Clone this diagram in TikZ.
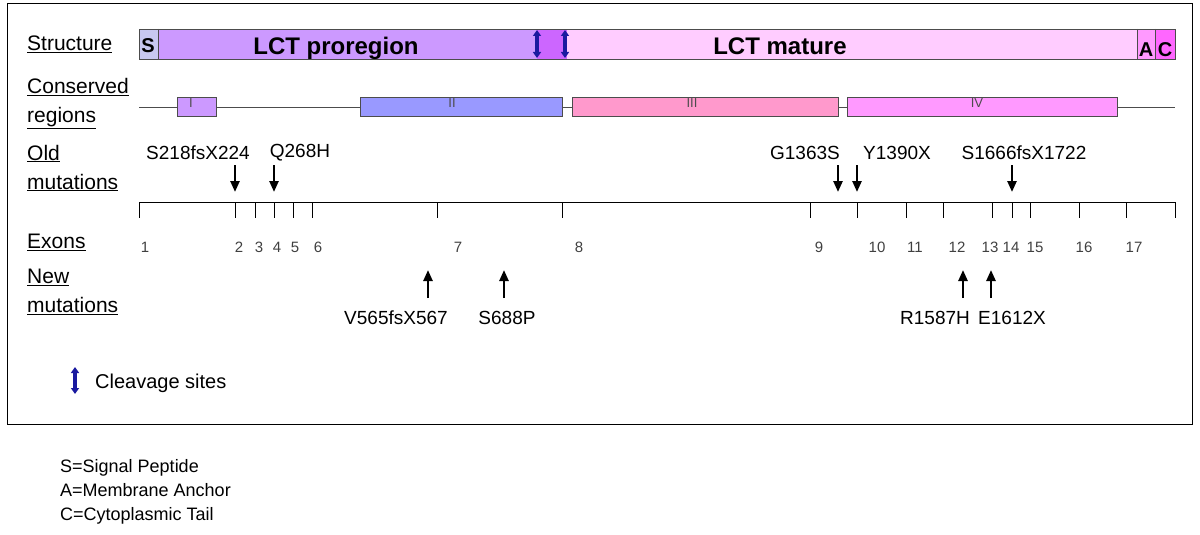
\documentclass[tikz,border=0pt]{standalone}
\usepackage{fontspec}
\setmainfont{Liberation Sans}
\usetikzlibrary{arrows.meta}
\definecolor{cS}{HTML}{C8C8F0}
\definecolor{cPro}{HTML}{CC99FF}
\definecolor{cMid}{HTML}{CC66FF}
\definecolor{cMat}{HTML}{FFCCFF}
\definecolor{cA}{HTML}{FF99FF}
\definecolor{cC}{HTML}{FF66FF}
\definecolor{cI}{HTML}{CC99FF}
\definecolor{cII}{HTML}{9999FF}
\definecolor{cIII}{HTML}{FF99CC}
\definecolor{cIV}{HTML}{FF99FF}
\definecolor{cleav}{HTML}{1A1AA0}
\tikzset{
  rowlab/.style={anchor=west,align=left,font=\fontsize{21}{29}\selectfont,inner sep=0},
  seg/.style={draw=black!70,line width=0.8pt},
  cbox/.style={draw=black!70,line width=0.8pt},
  mut/.style={font=\fontsize{19}{22}\selectfont,inner sep=0},
  exn/.style={font=\fontsize{15}{17}\selectfont,text=black!75,inner sep=0},
  marr/.style={-{Triangle[length=11pt,width=9pt]},line width=2.4pt},
  cleavarr/.style={{Triangle[length=6pt,width=8pt]}-{Triangle[length=6pt,width=8pt]},line width=4pt,cleav},
  legend/.style={anchor=base west,font=\fontsize{18}{20}\selectfont,inner sep=0},
}
\begin{document}
\begin{tikzpicture}[x=1pt,y=-1pt]
\useasboundingbox (0,0) rectangle (1200,535);
\draw[line width=1pt] (7,4) rectangle (1192,424);
% row labels
\node[rowlab] (lstruct) at (27,44) {\underline{Structure}};
\node[rowlab] (lcons) at (27,104) {\underline{Conserved}\\\underline{regions}};
\node[rowlab] (lold) at (27,168) {\underline{Old}\\\underline{mutations}};
\node[rowlab] (lex) at (27,242) {\underline{Exons}};
\node[rowlab] (lnew) at (27,292) {\underline{New}\\\underline{mutations}};
% structure bar
\fill[cS] (139,29) rectangle (158,59);
\fill[cPro] (158,29) rectangle (537,59);
\fill[cMid] (537,29) rectangle (567,59);
\fill[cMat] (567,29) rectangle (1137,59);
\fill[cA] (1137,29) rectangle (1155,59);
\fill[cC] (1155,29) rectangle (1175,59);
\draw[seg] (139,29) rectangle (1175,59);
\foreach \x in {158,1137,1155} \draw[seg] (\x,29) -- (\x,59);
\node[font=\bfseries\fontsize{20}{22}\selectfont,inner sep=0] (tS) at (148,46) {S};
\node[font=\bfseries\fontsize{24}{26}\selectfont,inner sep=0] (tpro) at (336,48) {LCT proregion};
\node[font=\bfseries\fontsize{24}{26}\selectfont,inner sep=0] (tmat) at (780,46) {LCT mature};
\node[font=\bfseries\fontsize{20}{22}\selectfont,inner sep=0] (tA) at (1146,50) {A};
\node[font=\bfseries\fontsize{20}{22}\selectfont,inner sep=0] (tC) at (1165,50) {C};
\coordinate (c1t) at (537,30); \coordinate (c1b) at (537,58);
\coordinate (c2t) at (565,30); \coordinate (c2b) at (565,58);
\draw[cleavarr] (c1t) -- (c1b);
\draw[cleavarr] (c2t) -- (c2b);
% conserved regions
\coordinate (cl0) at (139,107); \coordinate (cl1) at (1175,107);
\draw[seg] (cl0) -- (cl1);
\foreach \a/\b/\cc/\n/\xn in {177/216/cI/I/191,360/562/cII/II/452,572/838/cIII/III/692,847/1117/cIV/IV/977}{
  \draw[cbox,fill=\cc] (\a,97) rectangle (\b,116);
  \node[font=\fontsize{13}{14}\selectfont,text=black!70,inner sep=0] at (\xn,103) {\n};
}
% old mutations
\foreach \x/\t/\xl in {235/S218fsX224/198,274/Q268H/300,838/G1363S/805,857/Y1390X/897,1012/S1666fsX1722/1024}{
  \node[mut] (om\x) at (\xl,153) {\t};
  \coordinate (oa\x) at (\x,165); \coordinate (ob\x) at (\x,192);
  \draw[marr] (oa\x) -- (ob\x);
}
% exon line
\coordinate (e0) at (139,202); \coordinate (e1) at (1175,202);
\draw[line width=0.8pt] (e0) -- (e1);
\foreach \x in {139,235,255,274,293,312,437,562,810,857,906,943,992,1012,1030,1079,1126,1175}
  \draw[line width=0.8pt] (\x,202) -- (\x,218);
\foreach \n/\x in {1/145,2/239,3/259,4/277,5/295,6/318,7/458,8/579,9/819,10/877,11/915,12/957,13/990,14/1011,15/1035,16/1084,17/1134}
  \node[exn] (ex\n) at (\x,247) {\n};
% new mutations
\foreach \x/\t/\xl in {428/V565fsX567/396,504/S688P/507,963/R1587H/935,991/E1612X/1012}{
  \coordinate (na\x) at (\x,298); \coordinate (nb\x) at (\x,270);
  \draw[marr] (na\x) -- (nb\x);
  \node[mut] (nm\x) at (\xl,318) {\t};
}
% cleavage legend
\coordinate (lc1) at (75,367); \coordinate (lc2) at (75,394);
\draw[cleavarr] (lc1) -- (lc2);
\node[anchor=west,inner sep=0,font=\fontsize{20}{22}\selectfont] (lcl) at (95,383) {Cleavage sites};
% bottom legend
\node[legend] (lgS) at (60,472) {S=Signal Peptide};
\node[legend] (lgA) at (60,496) {A=Membrane Anchor};
\node[legend] (lgC) at (60,520) {C=Cytoplasmic Tail};
\end{tikzpicture}
\end{document}
